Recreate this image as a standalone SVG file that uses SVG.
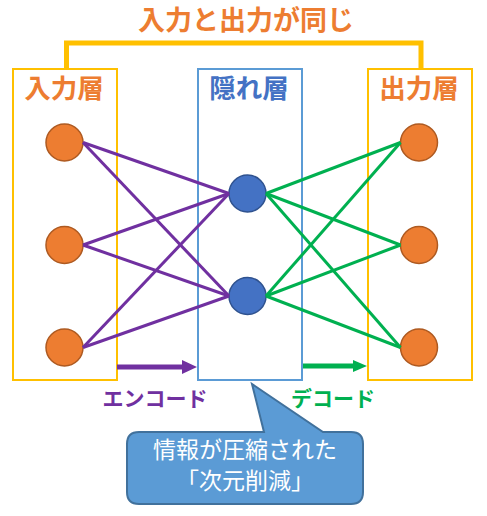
<svg xmlns="http://www.w3.org/2000/svg" width="487" height="516" viewBox="0 0 487 516">
<style>
.box{fill:none;stroke-width:2}
.in{fill:#ED7D31;stroke:#AE5A21;stroke-width:1.5}
.hid{fill:#4472C4;stroke:#2F528F;stroke-width:1.5}
.enc{stroke:#7030A0;stroke-width:3;fill:none}
.dec{stroke:#00B050;stroke-width:3;fill:none}
.lbl{font-family:"Noto Sans CJK JP","Noto Sans CJK SC",sans-serif;font-weight:bold;text-anchor:middle}
.call{font-family:"Noto Sans CJK JP","Noto Sans CJK SC",sans-serif;font-size:23px;fill:#FFFFFF;text-anchor:middle}
</style>
<rect width="487" height="516" fill="#FFFFFF"/>
<g id="title">
<polyline points="66.5,69 66.5,43 421,43 421,69" fill="none" stroke="#FFC000" stroke-width="5"/>
<text class="lbl" x="246" y="30" font-size="27" fill="#ED7D31">入力と出力が同じ</text>
</g>
<g id="input-layer">
<rect class="box" x="13" y="69" width="104" height="311" stroke="#FFC000"/>
<text class="lbl" x="64" y="98" font-size="26.5" fill="#ED7D31">入力層</text>
<circle class="in" cx="64.5" cy="142.5" r="18.5"/>
<circle class="in" cx="64.5" cy="245" r="18.5"/>
<circle class="in" cx="64.5" cy="347.5" r="18.5"/>
</g>
<g id="hidden-layer">
<rect class="box" x="198" y="69" width="104" height="311" stroke="#5B9BD5"/>
<text class="lbl" x="249" y="98" font-size="26.5" fill="#4472C4">隠れ層</text>
<circle class="hid" cx="247.5" cy="193.5" r="18.5"/>
<circle class="hid" cx="247.5" cy="296" r="18.5"/>
</g>
<g id="output-layer">
<rect class="box" x="368" y="69" width="104" height="311" stroke="#FFC000"/>
<text class="lbl" x="419" y="98" font-size="26.5" fill="#ED7D31">出力層</text>
<circle class="in" cx="419" cy="142.5" r="18.5"/>
<circle class="in" cx="419" cy="245" r="18.5"/>
<circle class="in" cx="419" cy="347.5" r="18.5"/>
</g>
<g id="connectors">
<line class="enc" x1="83" y1="142.5" x2="229" y2="193.5"/>
<line class="enc" x1="83" y1="142.5" x2="229" y2="296"/>
<line class="enc" x1="83" y1="245" x2="229" y2="193.5"/>
<line class="enc" x1="83" y1="245" x2="229" y2="296"/>
<line class="enc" x1="83" y1="347.5" x2="229" y2="193.5"/>
<line class="enc" x1="83" y1="347.5" x2="229" y2="296"/>
<line class="dec" x1="266" y1="193.5" x2="400.5" y2="142.5"/>
<line class="dec" x1="266" y1="193.5" x2="400.5" y2="245"/>
<line class="dec" x1="266" y1="193.5" x2="400.5" y2="347.5"/>
<line class="dec" x1="266" y1="296" x2="400.5" y2="142.5"/>
<line class="dec" x1="266" y1="296" x2="400.5" y2="245"/>
<line class="dec" x1="266" y1="296" x2="400.5" y2="347.5"/>
<line x1="117" y1="367" x2="183" y2="367" stroke="#7030A0" stroke-width="5"/>
<polygon points="182,360 197,367 182,374" fill="#7030A0"/>
<line x1="303" y1="366" x2="354" y2="366" stroke="#00B050" stroke-width="5"/>
<polygon points="353,360 367,366 353,372" fill="#00B050"/>
</g>
<g id="labels">
<text class="lbl" x="155" y="406" font-size="21" fill="#7030A0">エンコード</text>
<text class="lbl" x="333" y="406" font-size="21" fill="#00B050">デコード</text>
</g>
<g id="callout">
<path d="M139,432 L264,432 L252,384 L323,432 L351,432 Q363,432 363,444 L363,492 Q363,504 351,504 L139,504 Q127,504 127,492 L127,444 Q127,432 139,432 Z" fill="#5B9BD5" stroke="#41719C" stroke-width="2"/>
<text class="call" x="245" y="458">情報が圧縮された</text>
<text class="call" x="245" y="489">「次元削減」</text>
</g>
</svg>
